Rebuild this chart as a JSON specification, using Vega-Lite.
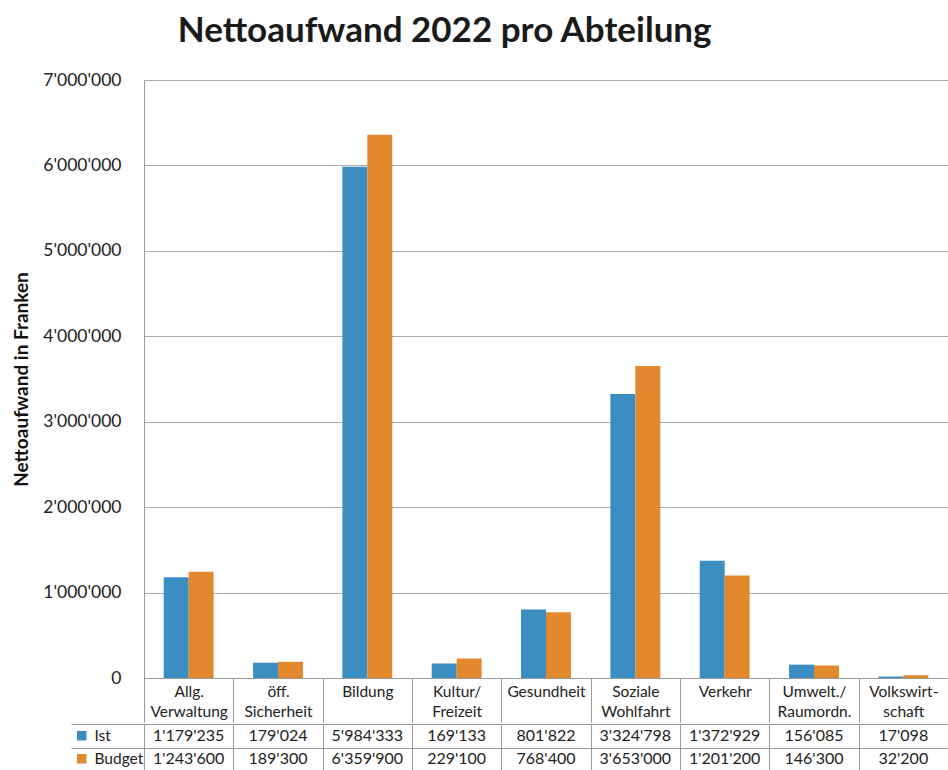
{
  "$schema": "https://vega.github.io/schema/vega-lite/v6.json",
  "padding": {"left": 12, "top": 14, "right": 0, "bottom": 0},
  "title": {"text": "Nettoaufwand 2022 pro Abteilung", "fontSize": 35, "font": "Lato", "fontWeight": "bold", "color": "#1a1a1a", "anchor": "middle", "offset": 22, "dx": -36},
  "data": {"values": [
    {"cat": "Allg.|Verwaltung", "series": "Ist", "value": 1179235},
    {"cat": "Allg.|Verwaltung", "series": "Budget", "value": 1243600},
    {"cat": "öff.|Sicherheit", "series": "Ist", "value": 179024},
    {"cat": "öff.|Sicherheit", "series": "Budget", "value": 189300},
    {"cat": "Bildung", "series": "Ist", "value": 5984333},
    {"cat": "Bildung", "series": "Budget", "value": 6359900},
    {"cat": "Kultur/|Freizeit", "series": "Ist", "value": 169133},
    {"cat": "Kultur/|Freizeit", "series": "Budget", "value": 229100},
    {"cat": "Gesundheit", "series": "Ist", "value": 801822},
    {"cat": "Gesundheit", "series": "Budget", "value": 768400},
    {"cat": "Soziale|Wohlfahrt", "series": "Ist", "value": 3324798},
    {"cat": "Soziale|Wohlfahrt", "series": "Budget", "value": 3653000},
    {"cat": "Verkehr", "series": "Ist", "value": 1372929},
    {"cat": "Verkehr", "series": "Budget", "value": 1201200},
    {"cat": "Umwelt./|Raumordn.", "series": "Ist", "value": 156085},
    {"cat": "Umwelt./|Raumordn.", "series": "Budget", "value": 146300},
    {"cat": "Volkswirt-|schaft", "series": "Ist", "value": 17098},
    {"cat": "Volkswirt-|schaft", "series": "Budget", "value": 32200}
  ]},
  "spacing": 0,
  "resolve": {"legend": {"color": "independent"}},
  "vconcat": [
    {
      "width": 804,
      "height": 598,
      "mark": {"type": "bar"},
      "encoding": {
        "x": {"field": "cat", "type": "nominal", "sort": null,
          "scale": {"paddingInner": 0, "paddingOuter": 0},
          "axis": {"title": null, "labelExpr": "split(datum.label, '|')", "labelAngle": 0, "labelBaseline": "middle",
            "labelPadding": -31, "labelFontSize": 15.5, "labelFont": "Lato", "labelColor": "#222", "labelLineHeight": 20,
            "tickBand": "extent", "tickSize": 44, "tickColor": "#999", "domainColor": "#999", "grid": false}},
        "xOffset": {"field": "series", "sort": ["Ist", "Budget"], "scale": {"paddingInner": 0, "paddingOuter": 0.79}},
        "y": {"field": "value", "type": "quantitative", "scale": {"domain": [0, 7000000]},
          "axis": {"values": [0, 1000000, 2000000, 3000000, 4000000, 5000000, 6000000, 7000000],
            "labelExpr": "format(datum.value, ',')",
            "labelFontSize": 17.5, "labelFont": "Lato", "labelColor": "#222", "labelPadding": 23, "ticks": false,
            "domain": true, "domainColor": "#999", "gridColor": "#aaa",
            "title": "Nettoaufwand in Franken", "titleFont": "Lato", "titleFontSize": 19, "titleFontWeight": "bold", "titleColor": "#111", "titlePadding": 11}},
        "color": {"field": "series", "type": "nominal", "sort": ["Ist", "Budget"],
          "scale": {"domain": ["Ist", "Budget"], "range": ["#3b8dc2", "#e2892d"]}, "legend": null}
      }
    },
    {
      "width": 804,
      "height": 47,
      "layer": [
        {
          "mark": {"type": "text", "font": "Lato", "fontSize": 16, "color": "#222"},
          "encoding": {
            "x": {"field": "cat", "type": "nominal", "sort": null,
              "axis": {"orient": "top", "title": null, "labels": false, "ticks": false, "domain": false, "grid": true, "tickBand": "extent", "gridColor": "#999"}},
            "y": {"field": "series", "type": "nominal", "sort": ["Ist", "Budget"],
              "axis": {"title": null, "labels": false, "ticks": true, "tickSize": 73, "tickBand": "extent", "tickColor": "#999", "domain": true, "domainColor": "#999", "grid": true, "gridColor": "#999"}},
            "text": {"field": "value", "type": "quantitative", "format": ","}
          }
        },
        {
          "mark": {"type": "rect", "opacity": 0},
          "encoding": {
            "x": {"field": "cat", "type": "nominal", "sort": null},
            "y": {"field": "series", "type": "nominal", "sort": ["Ist", "Budget"]},
            "color": {"field": "series", "type": "nominal", "sort": ["Ist", "Budget"],
              "scale": {"domain": ["Ist", "Budget"], "range": ["#3b8dc2", "#e2892d"]},
              "legend": {"orient": "none", "legendX": -70, "legendY": 4, "title": null, "symbolType": "square", "symbolSize": 90, "symbolOpacity": 1,
                "labelFontSize": 15.5, "labelFont": "Lato", "labelColor": "#222", "rowPadding": 6, "padding": 0, "labelOffset": 5, "symbolStrokeWidth": 0}}
          }
        }
      ]
    }
  ],
  "config": {
    "locale": {"number": {"decimal": ".", "thousands": "'", "grouping": [3], "currency": ["", ""]}},
    "view": {"stroke": null},
    "background": "white"
  }
}
